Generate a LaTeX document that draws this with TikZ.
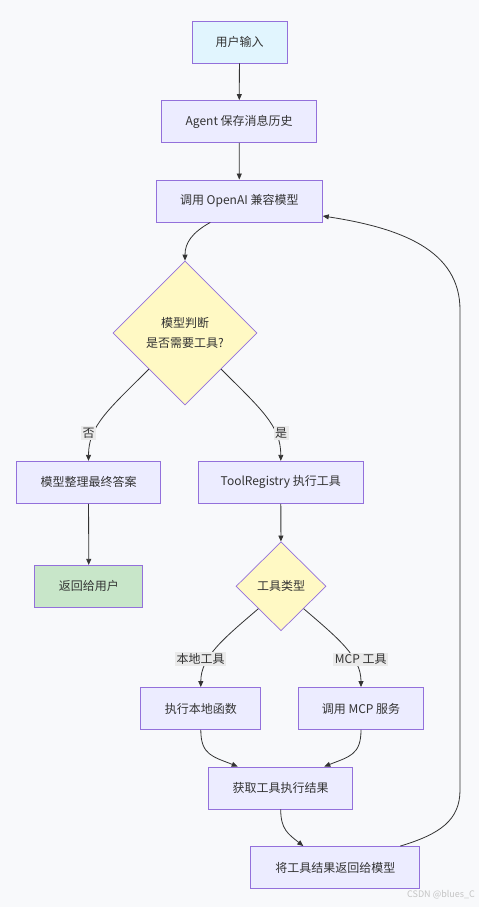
\documentclass[tikz,border=0pt]{standalone}
\usepackage{fontspec}
\setmainfont{Noto Sans CJK SC}
\usetikzlibrary{shapes.geometric,arrows.meta}
\definecolor{bgcol}{HTML}{F8F9FB}
\definecolor{boxfill}{HTML}{ECECFF}
\definecolor{boxline}{HTML}{9370DB}
\definecolor{startfill}{HTML}{E1F5FE}
\definecolor{endfill}{HTML}{C8E6C9}
\definecolor{decfill}{HTML}{FFF9C4}
\definecolor{edgecol}{HTML}{333333}
\definecolor{txtcol}{HTML}{333333}
\definecolor{lblfill}{HTML}{EAEAEA}
\definecolor{wmcol}{HTML}{C4C4C4}

\begin{document}
\begin{tikzpicture}[x=1pt,y=-1pt,
        >={Triangle[length=6pt,width=5pt]},
        every node/.style={font=\fontsize{12}{16}\selectfont,text=txtcol},
        box/.style={draw=boxline,fill=boxfill,line width=0.9pt,minimum height=42pt,inner sep=0pt},
        decision/.style={diamond,aspect=1,draw=boxline,fill=decfill,line width=0.7pt,inner sep=0pt,align=center},
        edge/.style={->,draw=edgecol,line width=0.8pt},
        lbl/.style={fill=lblfill,inner sep=1.5pt}]
        \fill[bgcol](0,0)rectangle(479,907);
        \useasboundingbox(0,0)rectangle(479,907);

        \node[box,fill=startfill,minimum width=95pt](in)at(239.5,42){用户输入};
        \node[box,minimum width=155pt](agent)at(239.2,121.5){Agent 保存消息历史};
        \node[box,minimum width=166pt](call)at(239.3,201){调用 OpenAI 兼容模型};
        \node[decision,minimum width=144pt,minimum height=144pt,font=\fontsize{12}{19.5}\selectfont](judge)at(185,333){模型判断\\是否需要工具?};
        \node[box,minimum width=144pt](final)at(88.5,482.3){模型整理最终答案};
        \node[box,minimum width=165pt](exec)at(280.8,482.3){ToolRegistry 执行工具};
        \node[box,fill=endfill,minimum width=108pt](ret)at(88.8,586.3){返回给用户};
        \node[decision,minimum width=90pt,minimum height=89pt](kind)at(281,586.3){工具类型};
        \node[box,minimum width=120pt](local)at(200.8,708.5){执行本地函数};
        \node[box,minimum width=125pt](mcp)at(361,708.5){调用 MCP 服务};
        \node[box,minimum width=144pt](result)at(280.7,788){获取工具执行结果};
        \node[box,minimum width=169pt](back)at(335.3,867.5){将工具结果返回给模型};

        \draw[edge](in)--(agent);
        \draw[edge](agent)--(call);
        \draw[edge]([xshift=-29pt]call.south)..controls +(-18,10) and +(0,-18)..(judge.north);
        \draw[edge](judge.south west)..controls +(-40,40) and +(0,-35)..(final.north);
        \draw[edge](judge.south east)..controls +(40,40) and +(0,-35)..(exec.north);
        \draw[edge](final)--(ret);
        \draw[edge](exec)--(kind);
        \draw[edge](kind.south west)..controls +(-35,30) and +(0,-30)..(local.north);
        \draw[edge](kind.south east)..controls +(35,30) and +(0,-30)..(mcp.north);
        \draw[edge](local.south)..controls +(0,25) and +(-25,-10)..([xshift=-43pt]result.north);
        \draw[edge](mcp.south)..controls +(0,25) and +(25,-10)..([xshift=43.6pt]result.north);
        \draw[edge](result.south)..controls +(0,20) and +(-15,-12)..([xshift=-32pt]back.north);
        \draw[edge]([xshift=65pt]back.north)..controls +(40,-12) and +(0,30)..(460,790)
            --(460,310)..controls +(0,-60) and +(78,12)..([yshift=-15pt]call.east);

        \node[lbl](no)at(88.7,433){否};
        \node[lbl](yes)at(281,433){是};
        \node[lbl](loc)at(200.7,659.3){本地工具};
        \node[lbl](rem)at(360.7,659.3){MCP 工具};
        \node[text=wmcol,font=\fontsize{9}{11}\selectfont](mark)at(441,895){CSDN @blues\_C};
    \end{tikzpicture}
\end{document}
